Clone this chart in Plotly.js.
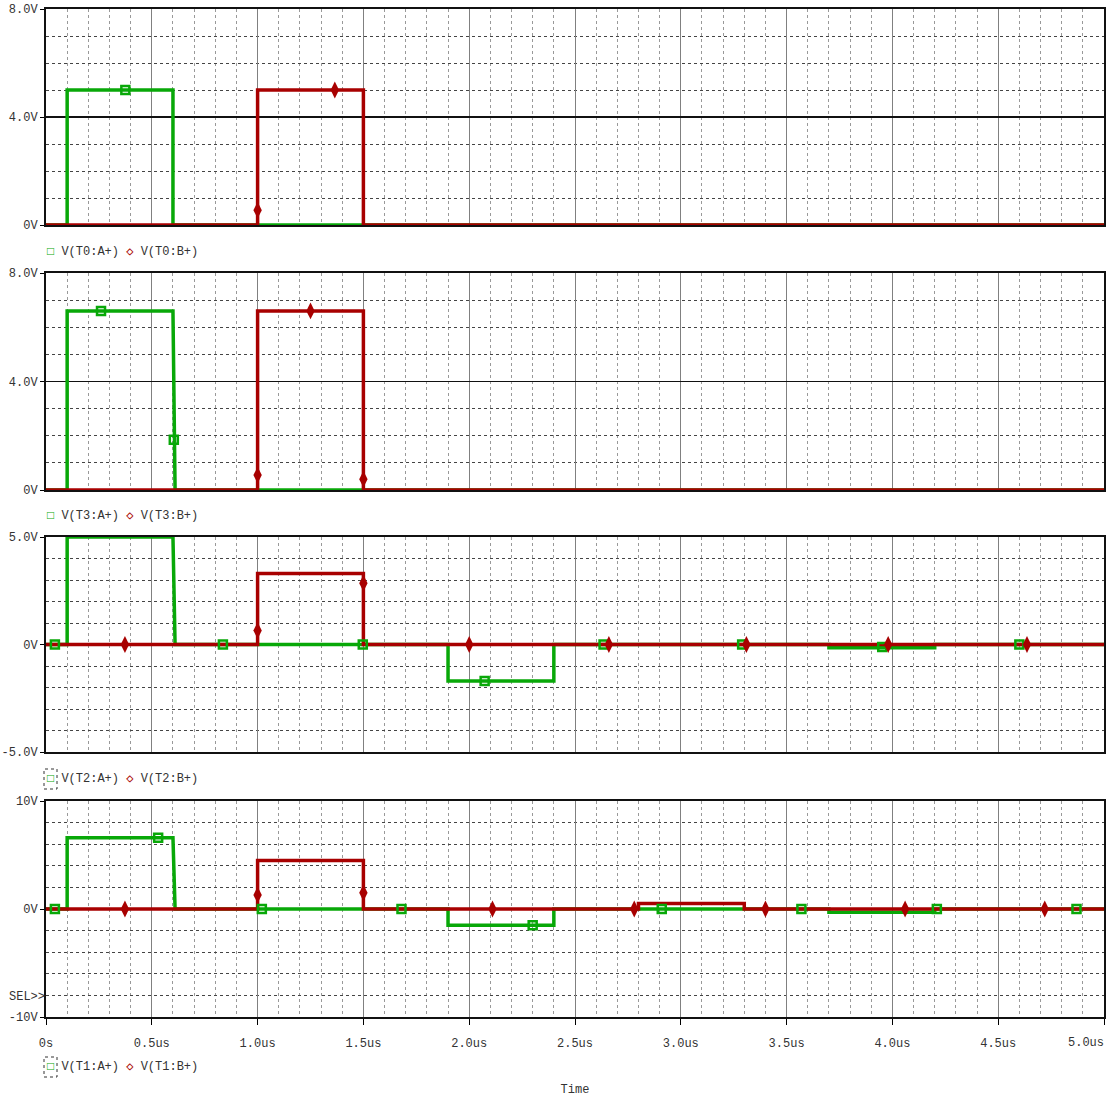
<!DOCTYPE html>
<html>
<head>
<meta charset="utf-8">
<script src="https://cdn.plot.ly/plotly-3.0.1.min.js"></script>
<style>html,body{margin:0;padding:0;background:#fff;}#chart{width:1107px;height:1102px;}</style>
</head>
<body>
<div id="chart"></div>
<script>
// ---- data (time in us, volts) ----
var xTickVals = [0, 0.5, 1.0, 1.5, 2.0, 2.5, 3.0, 3.5, 4.0, 4.5, 5.0];
var xTickText = ['0s', '0.5us', '1.0us', '1.5us', '2.0us', '2.5us', '3.0us', '3.5us', '4.0us', '4.5us', ''];
var xLastText = '5.0us';

// Panel 1: T0
var t0A = [0, 0.1, 0.1, 0.6, 0.6, 5.0];
var v0A = [0, 0, 5, 5, 0, 0];
var t0B = [0, 1.0, 1.0, 1.5, 1.5, 5.0];
var v0B = [0, 0, 5, 5, 0, 0];
var m0At = [0.375];
var m0Av = [5];
var m0Bt = [1.0, 1.365];
var m0Bv = [0.55, 5];

// Panel 2: T3
var t3A = [0, 0.1, 0.1, 0.6, 0.61, 5.0];
var v3A = [0, 0, 6.6, 6.6, 0, 0];
var t3B = [0, 1.0, 1.0, 1.5, 1.5, 5.0];
var v3B = [0, 0, 6.6, 6.6, 0, 0];
var m3At = [0.26, 0.604];
var m3Av = [6.6, 1.85];
var m3Bt = [1.0, 1.25, 1.5];
var m3Bv = [0.55, 6.6, 0.4];

// Panel 3: T2
var t2A = [0, 0.1, 0.1, 0.6, 0.61, 1.9, 1.9, 2.4, 2.4, 3.7, 3.7, 4.2, 4.2, 5.0];
var v2A = [0, 0, 5, 5, 0, 0, -1.7, -1.7, 0, 0, -0.15, -0.15, 0, 0];
var t2B = [0, 1.0, 1.0, 1.5, 1.5, 5.0];
var v2B = [0, 0, 3.3, 3.3, 0, 0];
var m2At = [0.042, 0.836, 1.497, 2.073, 2.635, 3.29, 3.952, 4.6];
var m2Av = [0, 0, 0, -1.7, 0, 0, -0.12, 0];
var m2Bt = [0.373, 1.0, 1.5, 2.0, 2.66, 3.31, 3.98, 4.636];
var m2Bv = [0, 0.65, 2.85, 0, 0, 0, 0, 0];

// Panel 4: T1
var t1A = [0, 0.1, 0.1, 0.6, 0.61, 1.9, 1.9, 2.4, 2.4, 3.7, 3.7, 4.2, 4.2, 5.0];
var v1A = [0, 0, 6.6, 6.6, 0, 0, -1.5, -1.5, 0, 0, -0.3, -0.3, 0, 0];
var t1B = [0, 1.0, 1.0, 1.5, 1.5, 2.8, 2.8, 3.3, 3.3, 5.0];
var v1B = [0, 0, 4.5, 4.5, 0, 0, 0.5, 0.5, 0, 0];
var m1At = [0.042, 0.53, 1.02, 1.68, 2.30, 2.91, 3.57, 4.21, 4.87];
var m1Av = [0, 6.6, 0, 0, -1.5, 0, 0, 0, 0];
var m1Bt = [0.373, 1.0, 1.5, 2.11, 2.78, 3.40, 4.06, 4.72];
var m1Bv = [0, 1.3, 1.5, 0, 0, 0, 0, 0];

var legendNames = [['V(T0:A+)', 'V(T0:B+)'], ['V(T3:A+)', 'V(T3:B+)'], ['V(T2:A+)', 'V(T2:B+)'], ['V(T1:A+)', 'V(T1:B+)']];
var yTickVals = [[0, 4, 8], [0, 4, 8], [-5, 0, 5], [-10, 0, 10]];
var yTickText = [['0V', '4.0V', '8.0V'], ['0V', '4.0V', '8.0V'], ['-5.0V', '0V', '5.0V'], ['-10V', '0V', '10V']];

// ---- styling / layout ----
var W = 1107, H = 1102;
var GREEN = '#08a808', RED = '#a80000';
var FONT = 'Liberation Mono, DejaVu Sans Mono, monospace';
var FS = 12;
function px(x) { return x / W; }
function py(y) { return 1 - y / H; }

var panels = [
  {A: [t0A, v0A], B: [t0B, v0B], mA: [m0At, m0Av], mB: [m0Bt, m0Bv], top: 9, bot: 225, range: [0, 8], minor: 1, gdash: 'solid', leg: 252, sel: false},
  {A: [t3A, v3A], B: [t3B, v3B], mA: [m3At, m3Av], mB: [m3Bt, m3Bv], top: 273, bot: 490, range: [0, 8], minor: 1, gdash: 'solid', leg: 516, sel: false},
  {A: [t2A, v2A], B: [t2B, v2B], mA: [m2At, m2Av], mB: [m2Bt, m2Bv], top: 537, bot: 752, range: [-5, 5], minor: 1, gdash: 'dot', leg: 779, sel: true},
  {A: [t1A, v1A], B: [t1B, v1B], mA: [m1At, m1Av], mB: [m1Bt, m1Bv], top: 801, bot: 1017, range: [-10, 10], minor: 2, gdash: 'dot', leg: 1067, sel: true}
];

var data = [];
var layout = {
  width: W, height: H,
  margin: {l: 0, r: 0, t: 0, b: 0},
  paper_bgcolor: '#fff', plot_bgcolor: '#fff',
  showlegend: false,
  font: {family: FONT, size: FS, color: '#333'},
  annotations: [], shapes: []
};

panels.forEach(function (p, i) {
  var n = i + 1;
  var xa = 'x' + n, ya = 'y' + n;
  data.push({x: p.A[0], y: p.A[1], xaxis: xa, yaxis: ya, mode: 'lines', line: {color: GREEN, width: 3.5}, hoverinfo: 'skip'});
  data.push({x: p.B[0], y: p.B[1], xaxis: xa, yaxis: ya, mode: 'lines', line: {color: RED, width: 3.5}, hoverinfo: 'skip'});
  data.push({x: p.mA[0], y: p.mA[1], xaxis: xa, yaxis: ya, mode: 'markers', marker: {symbol: 'square-open', size: 8, color: GREEN, line: {width: 2.5, color: GREEN}}, hoverinfo: 'skip'});
  data.push({x: p.mB[0], y: p.mB[1], xaxis: xa, yaxis: ya, mode: 'markers', marker: {symbol: 'diamond-tall', size: 12, color: RED, line: {width: 0}}, hoverinfo: 'skip'});

  var last = (n === 4);
  layout['xaxis' + n] = {
    domain: [px(46), px(1104)], anchor: ya, range: [0, 5],
    tickmode: 'array', tickvals: xTickVals, ticktext: xTickText,
    showticklabels: last, ticks: last ? 'outside' : '', ticklen: 6, tickcolor: '#000', tickwidth: 1,
    ticklabelstandoff: 8,
    tickfont: {family: FONT, size: FS, color: '#333'},
    showgrid: true, gridcolor: '#808080', gridwidth: 1,
    minor: {tickmode: 'linear', tick0: 0, dtick: 0.1, showgrid: true, gridcolor: '#999', griddash: 'dot', gridwidth: 1, ticks: ''},
    showline: true, mirror: true, linecolor: '#111', linewidth: 2, zeroline: false, fixedrange: true
  };
  if (last) {
    layout['xaxis' + n].title = {text: 'Time', font: {family: FONT, size: FS, color: '#333'}, standoff: 34};
  }
  layout['yaxis' + n] = {
    domain: [py(p.bot), py(p.top)], anchor: xa, range: p.range,
    tickmode: 'array', tickvals: yTickVals[i], ticktext: yTickText[i],
    ticks: 'outside', ticklen: 4, tickcolor: '#000', tickwidth: 1,
    tickfont: {family: FONT, size: FS, color: '#333'},
    showgrid: true, gridcolor: '#111', gridwidth: 1.5, griddash: p.gdash,
    minor: {tickmode: 'linear', tick0: 0, dtick: p.minor, showgrid: true, gridcolor: '#444', griddash: 'dot', gridwidth: 1, ticks: ''},
    showline: true, mirror: true, linecolor: '#111', linewidth: 2, zeroline: false, fixedrange: true
  };

  layout.annotations.push({
    xref: 'paper', yref: 'paper', x: px(45), y: py(p.leg), xanchor: 'left', yanchor: 'middle', showarrow: false,
    text: '<span style="color:' + GREEN + '">\u25A1</span> ' + legendNames[i][0] + ' <span style="color:' + RED + '">\u25C7</span> ' + legendNames[i][1],
    font: {family: FONT, size: FS, color: '#333'}
  });
  if (p.sel) {
    layout.shapes.push({type: 'rect', xref: 'paper', yref: 'paper', x0: px(44), x1: px(57), y0: py(p.leg + 10), y1: py(p.leg - 10),
      line: {color: '#333', width: 1, dash: 'dot'}, fillcolor: 'rgba(0,0,0,0)'});
  }
});

// last x tick label, right-aligned to the page edge as in the reference
layout.annotations.push({
  xref: 'paper', yref: 'paper', x: px(1106), y: py(1043), xanchor: 'right', yanchor: 'middle', showarrow: false,
  text: xLastText, font: {family: FONT, size: FS, color: '#333'}
});
layout.annotations.push({
  xref: 'paper', yref: 'paper', x: px(27), y: py(997), xanchor: 'center', yanchor: 'middle', showarrow: false,
  text: 'SEL>>', font: {family: FONT, size: FS, color: '#333'}
});

Plotly.newPlot('chart', data, layout, {staticPlot: true, displayModeBar: false});
</script>
</body>
</html>
